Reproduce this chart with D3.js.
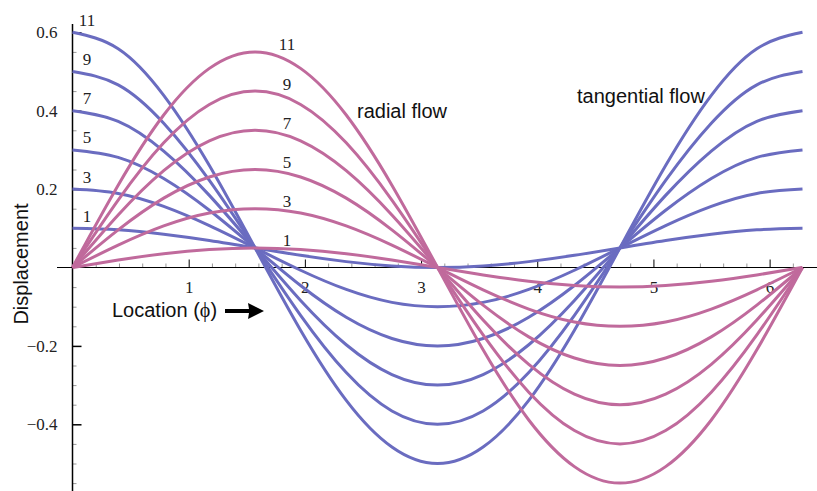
<html>
<head>
<script src="https://d3js.org/d3.v7.min.js"></script>
<style>
body { margin: 0; background: #fff; }
svg { display: block; }
</style>
</head>
<body>
<svg id="chart" width="817" height="491"></svg>
<script type="text/javascript">
// sample locations (phi) read along the x axis
var phi = [0, 0.393, 0.785, 1.178, 1.571, 1.963, 2.356, 2.749, 3.142, 3.534, 3.927, 4.320, 4.712, 5.105, 5.498, 5.890, 6.283];

// tangential flow (blue) curves, labelled 1..11
var tang1  = [0.100,0.096,0.085,0.069,0.050,0.031,0.015,0.004,0.000,0.004,0.015,0.031,0.050,0.069,0.085,0.096,0.100];
var tang3  = [0.200,0.189,0.156,0.107,0.050,-0.007,-0.056,-0.089,-0.100,-0.089,-0.056,-0.007,0.050,0.107,0.156,0.189,0.200];
var tang5  = [0.300,0.281,0.227,0.146,0.050,-0.046,-0.127,-0.181,-0.200,-0.181,-0.127,-0.046,0.050,0.146,0.227,0.281,0.300];
var tang7  = [0.400,0.373,0.297,0.184,0.050,-0.084,-0.197,-0.273,-0.300,-0.273,-0.197,-0.084,0.050,0.184,0.297,0.373,0.400];
var tang9  = [0.500,0.466,0.368,0.222,0.050,-0.122,-0.268,-0.366,-0.400,-0.366,-0.268,-0.122,0.050,0.222,0.368,0.466,0.500];
var tang11 = [0.600,0.558,0.439,0.260,0.050,-0.160,-0.339,-0.458,-0.500,-0.458,-0.339,-0.160,0.050,0.260,0.439,0.558,0.600];

// radial flow (pink) curves
var rad1  = [0,0.019,0.035,0.046,0.050,0.046,0.035,0.019,0,-0.019,-0.035,-0.046,-0.050,-0.046,-0.035,-0.019,0];
var rad3  = [0,0.057,0.106,0.139,0.150,0.139,0.106,0.057,0,-0.057,-0.106,-0.139,-0.150,-0.139,-0.106,-0.057,0];
var rad5  = [0,0.096,0.177,0.231,0.250,0.231,0.177,0.096,0,-0.096,-0.177,-0.231,-0.250,-0.231,-0.177,-0.096,0];
var rad7  = [0,0.134,0.247,0.323,0.350,0.323,0.247,0.134,0,-0.134,-0.247,-0.323,-0.350,-0.323,-0.247,-0.134,0];
var rad9  = [0,0.172,0.318,0.416,0.450,0.416,0.318,0.172,0,-0.172,-0.318,-0.416,-0.450,-0.416,-0.318,-0.172,0];
var rad11 = [0,0.210,0.389,0.508,0.550,0.508,0.389,0.210,0,-0.210,-0.389,-0.508,-0.550,-0.508,-0.389,-0.210,0];

var curveLabels = ["1", "3", "5", "7", "9", "11"];
var tangSeries = [tang1, tang3, tang5, tang7, tang9, tang11];
var radSeries = [rad1, rad3, rad5, rad7, rad9, rad11];

var xTicks = [1, 2, 3, 4, 5, 6];
var yTicks = [-0.4, -0.2, 0.2, 0.4, 0.6];

var blue = "#6a6cc0";
var pink = "#c06a9c";
var SERIF = "'Liberation Serif', 'Times New Roman', serif";
var SANS = "'Liberation Sans', Arial, sans-serif";

var svg = d3.select("#chart");

var x = d3.scaleLinear().domain([0, 6.283]).range([72.5, 802.5]);
var y = d3.scaleLinear().domain([0, 0.6]).range([267.5, 32.3]);

// minor ticks
var xMinor = d3.range(1, 32).map(function(i){ return i * 0.2; }).filter(function(v){ return Math.abs(v - Math.round(v)) > 0.01; });
var yMinor = d3.range(-11, 13).map(function(i){ return i * 0.05; }).filter(function(v){ return Math.abs(v / 0.2 - Math.round(v / 0.2)) > 0.01; });

svg.append("g").attr("transform", "translate(0," + y(0) + ")")
	.call(d3.axisBottom(x).tickValues(xMinor).tickSize(-4).tickFormat(""))
	.call(function(g){ g.select(".domain").remove(); g.selectAll("text").remove(); g.selectAll("line").attr("stroke", "#999"); });
svg.append("g").attr("transform", "translate(" + x(0) + ",0)")
	.call(d3.axisLeft(y).tickValues(yMinor).tickSize(-4).tickFormat(""))
	.call(function(g){ g.select(".domain").remove(); g.selectAll("text").remove(); g.selectAll("line").attr("stroke", "#999"); });

// main axes
var xAxis = svg.append("g").attr("transform", "translate(0," + y(0) + ")")
	.call(d3.axisBottom(x).tickValues(xTicks).tickSizeInner(-8).tickSizeOuter(0).tickPadding(13).tickFormat(d3.format("d")));
xAxis.select(".domain").remove();
xAxis.selectAll("text").style("font-family", SERIF).style("font-size", "17px").attr("fill", "#222");

var yAxis = svg.append("g").attr("transform", "translate(" + x(0) + ",0)")
	.call(d3.axisLeft(y).tickValues(yTicks).tickSizeInner(-9).tickSizeOuter(0).tickPadding(15)
		.tickFormat(function(d){ return (d < 0 ? "\u2212" : "") + Math.abs(d).toFixed(1); }));
yAxis.select(".domain").remove();
yAxis.selectAll("text").style("font-family", SERIF).style("font-size", "17px").attr("fill", "#222");
yAxis.selectAll("line").attr("stroke-width", 1.5);

svg.append("line").attr("x1", 57).attr("x2", 817).attr("y1", y(0)).attr("y2", y(0))
	.attr("stroke", "#000").attr("stroke-width", 1.2);
svg.append("line").attr("x1", x(0)).attr("x2", x(0)).attr("y1", 24).attr("y2", 491)
	.attr("stroke", "#000").attr("stroke-width", 1.5);

// curves
var line = d3.line()
	.x(function(d, i){ return x(phi[i]); })
	.y(function(d){ return y(d); })
	.curve(d3.curveNatural);

svg.append("g").selectAll("path").data(tangSeries).enter().append("path")
	.attr("d", line).attr("fill", "none").attr("stroke", blue).attr("stroke-width", 3);
svg.append("g").selectAll("path").data(radSeries).enter().append("path")
	.attr("d", line).attr("fill", "none").attr("stroke", pink).attr("stroke-width", 3);

// curve numbers
svg.append("g").selectAll("text").data(tangSeries).enter().append("text")
	.style("font-family", SERIF).style("font-size", "17px").attr("fill", "#222")
	.attr("text-anchor", "middle").attr("dominant-baseline", "central")
	.attr("x", 87)
	.attr("y", function(d){ return y(d[0]) - 12; })
	.text(function(d, i){ return curveLabels[i]; });

svg.append("g").selectAll("text").data(radSeries).enter().append("text")
	.style("font-family", SERIF).style("font-size", "17px").attr("fill", "#222")
	.attr("text-anchor", "middle").attr("dominant-baseline", "central")
	.attr("x", 287)
	.attr("y", function(d){ return y(d3.max(d)) - 7; })
	.text(function(d, i){ return curveLabels[i]; });

// titles
svg.append("text").style("font-family", SANS).style("font-size", "20px").attr("fill", "#111")
	.attr("x", 357).attr("y", 118).text("radial flow");
svg.append("text").style("font-family", SANS).style("font-size", "20px").attr("fill", "#111")
	.attr("x", 577).attr("y", 103).text("tangential flow");

var loc = svg.append("text").style("font-family", SANS).style("font-size", "20px").attr("fill", "#111")
	.attr("x", 112).attr("y", 317);
loc.append("tspan").text("Location (");
loc.append("tspan").style("font-family", SERIF).text("\u03d5");
loc.append("tspan").text(")");

svg.append("path")
	.attr("d", "M225,309 L249,309 L248,303 L264,311 L248,319 L249,313 L225,313 Z")
	.attr("fill", "#000");

svg.append("text").style("font-family", SANS).style("font-size", "20px").attr("fill", "#111")
	.attr("transform", "translate(28,264) rotate(-90)")
	.attr("text-anchor", "middle").text("Displacement");
</script>
</body>
</html>
